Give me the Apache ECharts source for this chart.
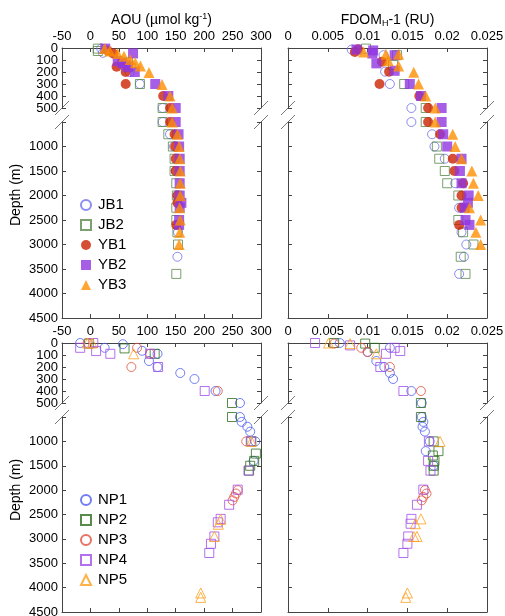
<!DOCTYPE html>
<html>
<head>
<meta charset="utf-8">
<script src="https://cdn.jsdelivr.net/npm/echarts@6/dist/echarts.min.js"></script>
<style>
html, body { margin: 0; padding: 0; background: #fff; }
#chart { width: 505px; height: 616px; }
</style>
</head>
<body>
<div id="chart"></div>
<script>
// tick labels
const aouTicks = [-50, 0, 50, 100, 150, 200, 250, 300];
const fdomTicks = [0, 0.005, 0.01, 0.015, 0.02, 0.025];
const depthUpperTicks = [0, 100, 200, 300, 400, 500];
const depthLowerTicks = [500, 1000, 1500, 2000, 2500, 3000, 3500, 4000, 4500];

// [value, depth] pairs
const jb1Aou = [[19,5],[22,40],[72,150],[69,200],[87,300],[127,500],[140,750],[147,1000],[150,1500],[153,2000],[154,2750],[153,3250]];
const jb2Aou = [[13,5],[13,25],[66,120],[87,300],[127,500],[137,750],[145,1000],[148,1250],[148,1500],[151,1750],[152,2000],[151,2250],[151,2500],[153,2750],[154,3000],[151,3600]];
const yb1Aou = [[30,20],[40,46],[46,156],[62,200],[62,300],[128,400],[140,500],[148,750],[149,1000],[150,1250],[150,1500],[153,2000],[153,2150],[151,2600]];
const yb2Aou = [[26,5],[75,45],[48,110],[56,125],[62,140],[66,160],[78,200],[114,300],[137,400],[150,500],[155,750],[156,1000],[157,1250],[157,1500],[157,1750],[157,2000],[160,2150],[157,2250],[156,2500],[156,2600]];
const yb3Aou = [[25,5],[34,25],[48,46],[59,68],[70,95],[79,123],[88,150],[103,205],[126,305],[140,400],[144,500],[153,750],[156,1000],[157,1250],[158,1500],[158,1750],[158,2000],[157,2250],[158,2500],[157,2750],[156,3000]];

const jb1Fdom = [[0.0080,13],[0.0120,60],[0.0122,197],[0.0128,300],[0.0155,500],[0.0181,750],[0.0184,1000],[0.0197,1250],[0.0210,1750],[0.0215,2250],[0.0218,2750],[0.0224,3000],[0.0221,3250],[0.0215,3600]];
const jb2Fdom = [[0.0098,5],[0.0137,60],[0.0132,142],[0.0146,300],[0.0173,500],[0.0187,1000],[0.0190,1250],[0.0197,1500],[0.0200,1750],[0.0214,2000],[0.0214,2500],[0.0220,2750],[0.0233,3000],[0.0217,3250],[0.0223,3600]];
const yb1Fdom = [[0.0088,10],[0.0084,33],[0.0118,115],[0.0127,197],[0.0115,300],[0.0165,400],[0.0176,500],[0.0191,750],[0.0207,1250],[0.0209,1500],[0.0220,1750],[0.0218,2000],[0.0218,2250],[0.0215,2600]];
const yb2Fdom = [[0.0086,13],[0.0107,20],[0.0106,46],[0.0134,60],[0.0111,128],[0.0134,190],[0.0153,300],[0.0167,400],[0.0193,500],[0.0195,750],[0.0200,1000],[0.0218,1250],[0.0216,1500],[0.0218,1750],[0.0227,2000],[0.0226,2150],[0.0222,2250],[0.0223,2500],[0.0228,2600]];
const yb3Fdom = [[0.0095,33],[0.0123,52],[0.0139,52],[0.0126,107],[0.0139,150],[0.0158,202],[0.0164,300],[0.0173,400],[0.0185,500],[0.0207,750],[0.0210,1000],[0.0218,1250],[0.0231,1500],[0.0233,1750],[0.0239,2000],[0.0228,2250],[0.0242,2500],[0.0236,2750],[0.0242,3000]];

const np1Aou = [[-18,0],[57,10],[25,40],[91,65],[118,90],[103,150],[118,200],[158,250],[183,300],[220,400],[263,500],[266,600],[276,700],[281,800],[290,1000],[287,1400]];
const np2Aou = [[-3,5],[60,45],[113,90],[249,500],[283,1000],[291,1250],[288,1400],[281,1500],[279,1600]];
const np3Aou = [[-5,0],[82,40],[105,90],[72,200],[224,400],[274,1000],[259,2000],[256,2070],[253,2140],[250,2210]];
const np4Aou = [[-18,40],[5,0],[10,67],[35,90],[105,90],[119,200],[201,400],[282,1000],[278,1600],[259,1990],[244,2300],[229,2590],[224,2660],[218,2950],[212,3100],[209,3290]];
const np5Aou = [[-5,0],[3,0],[76,90],[283,1000],[229,2600],[225,2700],[218,2950],[194,4110],[194,4200]];

const np1Fdom = [[0.0065,0],[0.0128,40],[0.0100,75],[0.0111,150],[0.0121,200],[0.0128,250],[0.0132,300],[0.0155,400],[0.0168,500],[0.0170,600],[0.0169,700],[0.0172,800],[0.0178,1000],[0.0173,1200],[0.0183,1500]];
const np2Fdom = [[0.0058,0],[0.0097,5],[0.0109,40],[0.0167,500],[0.0183,1000],[0.0189,1200],[0.0182,1290],[0.0184,1400],[0.0183,1500],[0.0183,1600]];
const np3Fdom = [[0.0058,5],[0.0092,40],[0.0100,75],[0.0128,200],[0.0167,400],[0.0172,2000],[0.0174,2070],[0.0170,2140],[0.0168,2210]];
const np4Fdom = [[0.0034,0],[0.0078,20],[0.0134,40],[0.0141,67],[0.0123,90],[0.0116,200],[0.0145,400],[0.0177,1000],[0.0176,1400],[0.0179,1600],[0.0170,1990],[0.0162,2300],[0.0155,2590],[0.0154,2690],[0.0151,2950],[0.0150,3100],[0.0145,3290]];
const np5Fdom = [[0.0051,0],[0.0078,5],[0.0111,90],[0.0191,1000],[0.0167,2590],[0.0160,2690],[0.0158,2950],[0.0162,2950],[0.0150,4110],[0.0148,4200]];

const breakDepth = 500;

const FONT = '"Liberation Sans", Arial, sans-serif';
const AXIS_COLOR = '#444';
const PANEL_W = 199;
const UPPER_H = 60;
const BREAK_GAP = 14;

const seriesStyle = {
  JB1: { symbol: 'circle', color: '#6f6fee', hollow: true, size: 9 },
  JB2: { symbol: 'rect', color: '#5b8a4b', hollow: true, size: 9 },
  YB1: { symbol: 'circle', color: '#cc2200', hollow: false, size: 10 },
  YB2: { symbol: 'rect', color: '#9036e0', hollow: false, size: 10 },
  YB3: { symbol: 'triangle', color: '#ff8f00', hollow: false, size: 11 },
  NP1: { symbol: 'circle', color: '#4d5ff0', hollow: true, size: 9 },
  NP2: { symbol: 'rect', color: '#2f6e1f', hollow: true, size: 9 },
  NP3: { symbol: 'circle', color: '#e0503c', hollow: true, size: 9 },
  NP4: { symbol: 'rect', color: '#a14de8', hollow: true, size: 9 },
  NP5: { symbol: 'triangle', color: '#ff9f1c', hollow: true, size: 10 }
};

const aouTitle = '{t|AOU (µmol kg}{s|-1}{t|)}';
const fdomTitle = '{t|FDOM}{b|H}{t|-1 (RU)}';

const panels = [
  { left: 62, top: 48, lowerH: 196, xTicks: aouTicks, title: aouTitle, yLabels: true,
    data: { JB1: jb1Aou, JB2: jb2Aou, YB1: yb1Aou, YB2: yb2Aou, YB3: yb3Aou } },
  { left: 288, top: 48, lowerH: 196, xTicks: fdomTicks, title: fdomTitle, yLabels: false,
    data: { JB1: jb1Fdom, JB2: jb2Fdom, YB1: yb1Fdom, YB2: yb2Fdom, YB3: yb3Fdom } },
  { left: 62, top: 343, lowerH: 195, xTicks: aouTicks, title: null, yLabels: true,
    data: { NP1: np1Aou, NP2: np2Aou, NP3: np3Aou, NP4: np4Aou, NP5: np5Aou } },
  { left: 288, top: 343, lowerH: 195, xTicks: fdomTicks, title: null, yLabels: false,
    data: { NP1: np1Fdom, NP2: np2Fdom, NP3: np3Fdom, NP4: np4Fdom, NP5: np5Fdom } }
];

const titleRich = {
  t: { fontSize: 14, lineHeight: 16, color: '#000', fontFamily: FONT },
  s: { fontSize: 9, lineHeight: 9, verticalAlign: 'top', color: '#000', fontFamily: FONT },
  b: { fontSize: 9, lineHeight: 9, verticalAlign: 'bottom', color: '#000', fontFamily: FONT }
};

const axisLine = { show: true, onZero: false, lineStyle: { color: AXIS_COLOR, width: 1 } };
const axisTick = { show: true, inside: true, length: 4, lineStyle: { color: AXIS_COLOR } };
const labelStyle = { fontSize: 13, color: '#000', fontFamily: FONT, hideOverlap: false, formatter: v => String(v) };

const grids = [], xAxes = [], yAxes = [], series = [], graphics = [];

function depthAxis(gi, ticks, extra) {
  return Object.assign({
    type: 'value', gridIndex: gi, inverse: true,
    min: ticks[0], max: ticks[ticks.length - 1], interval: ticks[1] - ticks[0],
    splitLine: { show: false }, axisLine, axisTick
  }, extra);
}

panels.forEach(p => {
  const upperTop = p.top;
  const lowerTop = p.top + UPPER_H + BREAK_GAP;
  const segments = [
    { top: upperTop, height: UPPER_H, ticks: depthUpperTicks, upper: true },
    { top: lowerTop, height: p.lowerH, ticks: depthLowerTicks, upper: false }
  ];

  segments.forEach(seg => {
    const gi = grids.length;
    grids.push({ left: p.left, top: seg.top, width: PANEL_W, height: seg.height, outerBoundsMode: 'none' });

    const xi = xAxes.length;
    xAxes.push({
      type: 'value', gridIndex: gi,
      position: seg.upper ? 'top' : 'bottom',
      min: p.xTicks[0], max: p.xTicks[p.xTicks.length - 1], interval: p.xTicks[1] - p.xTicks[0],
      splitLine: { show: false },
      axisLine, axisTick,
      axisLabel: Object.assign({ show: seg.upper, margin: 5, showMinLabel: true, showMaxLabel: true }, labelStyle),
      name: seg.upper && p.title ? p.title : '',
      nameLocation: 'middle', nameGap: 20,
      nameTextStyle: { rich: titleRich }
    });

    const yi = yAxes.length;
    yAxes.push(depthAxis(gi, seg.ticks, {
      position: 'left',
      axisLabel: Object.assign({
        show: p.yLabels && !seg.upper, margin: 4, customValues: seg.ticks.slice(1)
      }, labelStyle)
    }));
    yAxes.push(depthAxis(gi, seg.ticks, { position: 'right', axisLabel: { show: false } }));

    // upper labels sit 12px apart; split them over two overlay axes so none get dropped
    if (p.yLabels && seg.upper) {
      [seg.ticks.filter((t, k) => k % 2 === 0), seg.ticks.filter((t, k) => k % 2 === 1)].forEach(vals => {
        const lg = grids.length;
        grids.push({ left: p.left, top: seg.top, width: PANEL_W, height: seg.height, outerBoundsMode: 'none' });
        xAxes.push({ type: 'value', gridIndex: lg, show: false, min: 0, max: 1 });
        yAxes.push(depthAxis(lg, seg.ticks, {
          position: 'left',
          axisLine: { show: false, onZero: false }, axisTick: { show: false },
          axisLabel: Object.assign({ margin: 4, customValues: vals, showMinLabel: true, showMaxLabel: true }, labelStyle)
        }));
      });
    }

    Object.keys(p.data).forEach(name => {
      const st = seriesStyle[name];
      const pts = p.data[name].filter(d => seg.upper ? d[1] <= breakDepth : d[1] >= breakDepth);
      series.push({
        name, type: 'scatter',
        xAxisIndex: xi, yAxisIndex: yi,
        symbol: st.symbol, symbolSize: st.size,
        itemStyle: st.hollow
          ? { color: 'rgba(255,255,255,0)', borderColor: st.color, borderWidth: 1 }
          : { color: st.color, borderWidth: 0 },
        emphasis: { disabled: true },
        data: pts
      });
    });
  });

  // break marks on both vertical axes
  [p.left, p.left + PANEL_W].forEach(x => {
    [upperTop + UPPER_H, lowerTop].forEach(y => {
      graphics.push({
        type: 'line', silent: true,
        shape: { x1: x - 7, y1: y + 7, x2: x + 7, y2: y - 7 },
        style: { stroke: '#777', lineWidth: 1 }
      });
    });
  });

  if (p.yLabels) {
    graphics.push({
      type: 'text', x: 16, y: p.top + 147, rotation: Math.PI / 2,
      style: { text: 'Depth (m)', font: '14px ' + FONT, fill: '#000', textAlign: 'center', textVerticalAlign: 'middle' }
    });
  }
});

const legendBase = {
  orient: 'vertical', left: 75, itemWidth: 10, itemHeight: 10, itemGap: 0,
  textStyle: { fontSize: 15, lineHeight: 20, color: '#000', fontFamily: FONT, padding: [0, 0, 0, 2] },
  selectedMode: false
};

const option = {
  animation: false,
  textStyle: { fontFamily: FONT },
  grid: grids,
  xAxis: xAxes,
  yAxis: yAxes,
  legend: [
    Object.assign({}, legendBase, { top: 190, data: ['JB1', 'JB2', 'YB1', 'YB2', 'YB3'] }),
    Object.assign({}, legendBase, { top: 485, data: ['NP1', 'NP2', 'NP3', 'NP4', 'NP5'] })
  ],
  graphic: graphics,
  series
};

const chart = echarts.init(document.getElementById('chart'));
chart.setOption(option);
</script>
</body>
</html>
